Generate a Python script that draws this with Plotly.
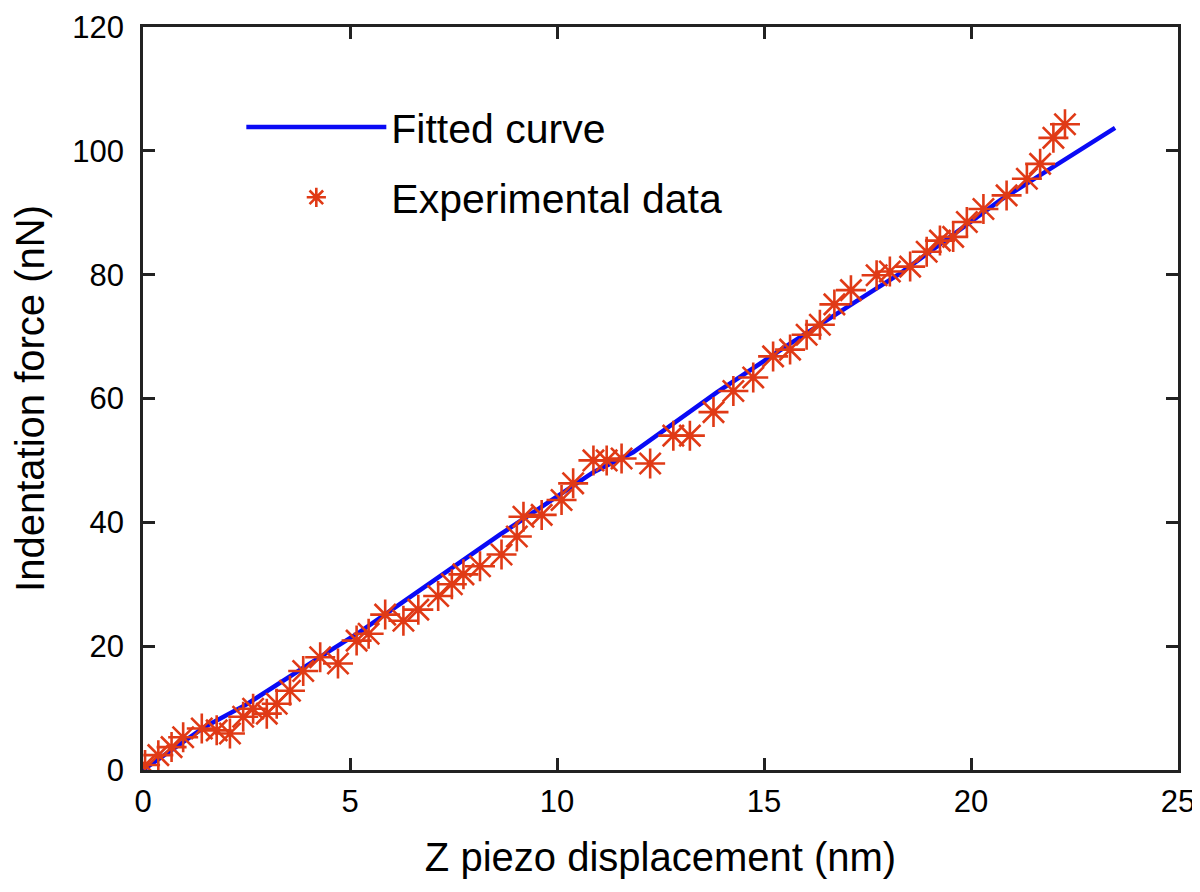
import plotly.graph_objects as go

exp_x = [0.05, 0.37, 0.69, 0.97, 1.42, 1.78, 2.10, 2.42, 2.66, 2.99, 3.23, 3.55, 3.87,
         4.28, 4.71, 5.16, 5.45, 5.85, 6.29, 6.65, 7.13, 7.46, 7.74, 8.14, 8.66, 9.03,
         9.19, 9.63, 10.11, 10.39, 10.88, 11.20, 11.56, 12.25, 12.81, 13.21, 13.78,
         14.26, 14.74, 15.22, 15.63, 16.03, 16.35, 16.70, 17.10, 17.72, 18.04, 18.53,
         18.93, 19.25, 19.57, 19.90, 20.30, 20.86, 21.35, 21.67, 21.99, 22.27]
exp_y = [0.8, 2.4, 3.7, 5.3, 6.7, 6.4, 5.9, 8.6, 9.9, 9.1, 10.7, 12.8, 16.0,
         18.2, 17.2, 20.9, 22.0, 25.1, 24.1, 25.9, 28.1, 30.0, 31.6, 32.9, 34.8, 37.7,
         40.9, 41.2, 43.6, 46.3, 50.0, 50.0, 50.3, 49.5, 54.0, 54.0, 57.8,
         61.2, 63.4, 66.8, 67.9, 70.3, 71.9, 75.2, 77.5, 79.9, 80.5, 81.3,
         83.7, 85.5, 86.1, 88.5, 90.6, 92.8, 95.5, 97.9, 102.1, 104.3]

# Fitted curve
fit_x = [0.0, 1.5, 2.5, 3.5, 4.5, 5.24, 7.66, 8.62, 10.88, 11.84, 13.86, 15.66,
         17.16, 18.29, 20.70, 21.83, 23.48]
fit_y = [0.0, 7.0, 10.6, 15.0, 19.2, 22.3, 33.5, 38.0, 48.1, 51.3, 61.0, 69.0,
         75.4, 80.2, 92.0, 96.8, 103.7]

x_ticks = [0, 5, 10, 15, 20, 25]
y_ticks = [0, 20, 40, 60, 80, 100, 120]

FONT = "Liberation Sans, Arial, sans-serif"

fig = go.Figure()
fig.add_trace(go.Scatter(
    x=fit_x, y=fit_y, mode="lines", name="Fitted curve",
    line=dict(color="#0a0af5", width=4.5), legendgroup="a"))
fig.add_trace(go.Scatter(
    x=exp_x, y=exp_y, mode="markers", name="Experimental data",
    marker=dict(symbol="asterisk-open", size=25, color="#e03a16",
                line=dict(color="#e03a16", width=2.6)), legendgroup="b"))

axis_common = dict(
    showgrid=False, zeroline=False, showline=True, linecolor="#222222", linewidth=2.5,
    mirror="ticks", ticks="inside", ticklen=12, tickwidth=2.5, tickcolor="#222222",
    tickfont=dict(family=FONT, size=31, color="black"), automargin=False,
    ticklabeloverflow="allow",
)

fig.update_layout(
    width=1200, height=892,
    margin=dict(l=135, r=30, t=19, b=130),
    paper_bgcolor="white", plot_bgcolor="white",
    font=dict(family=FONT, color="black"),
    xaxis=dict(range=[0, 25], tickvals=x_ticks, ticklabelstandoff=2,
               title=dict(text="Z piezo displacement (nm)", font=dict(size=40, family=FONT),
                          standoff=26),
               **axis_common),
    yaxis=dict(range=[0, 120], tickvals=y_ticks, ticklabelstandoff=10,
               title=dict(text="Indentation force (nN)", font=dict(size=40, family=FONT),
                          standoff=27),
               **axis_common),
    legend=dict(x=0.095, y=0.91, xanchor="left", yanchor="top",
                bgcolor="rgba(0,0,0,0)", borderwidth=0,
                font=dict(size=41, family=FONT, color="black"),
                itemwidth=140, tracegroupgap=14),
    showlegend=True,
)

fig.write_html("out.html")
